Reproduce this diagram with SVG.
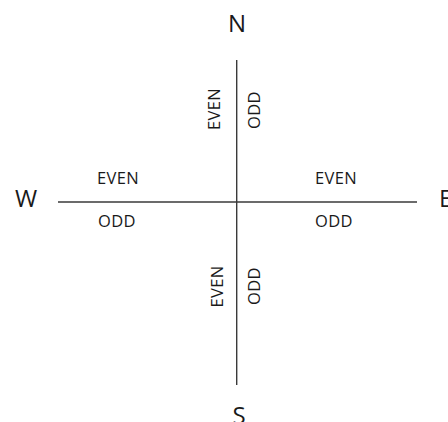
<svg xmlns="http://www.w3.org/2000/svg" width="448" height="422" viewBox="0 0 448 422">
<style>
.ax{stroke:#3a3a3a;stroke-width:1.4;fill:none}
.big{font-family:"Open Sans","Liberation Sans",sans-serif;font-size:24px;fill:#1a1a1a;text-anchor:middle}
.lb{font-family:"Open Sans","Liberation Sans",sans-serif;font-size:16.5px;fill:#1a1a1a;text-anchor:middle;letter-spacing:0.4px}
</style>
<rect width="448" height="422" fill="#ffffff"/>
<g id="connectors">
<line class="ax" x1="236.7" y1="60" x2="236.7" y2="385"/>
<line class="ax" x1="58" y1="202" x2="417" y2="202"/>
</g>
<g id="N"><text class="big" x="237" y="32">N</text></g>
<g id="S"><text class="big" x="239" y="423.5">S</text></g>
<g id="W"><text class="big" x="26" y="206.5">W</text></g>
<g id="E"><text class="big" x="439" y="206.5" style="text-anchor:start">E</text></g>
<g id="left-labels">
<text class="lb" x="118" y="184">EVEN</text>
<text class="lb" x="117" y="227">ODD</text>
</g>
<g id="right-labels">
<text class="lb" x="336" y="184">EVEN</text>
<text class="lb" x="334" y="227">ODD</text>
</g>
<g id="top-labels">
<text class="lb" transform="translate(219.5,109) rotate(-90)">EVEN</text>
<text class="lb" transform="translate(260,110) rotate(-90)">ODD</text>
</g>
<g id="bottom-labels">
<text class="lb" transform="translate(222.5,286.5) rotate(-90)">EVEN</text>
<text class="lb" transform="translate(260,286) rotate(-90)">ODD</text>
</g>
</svg>
